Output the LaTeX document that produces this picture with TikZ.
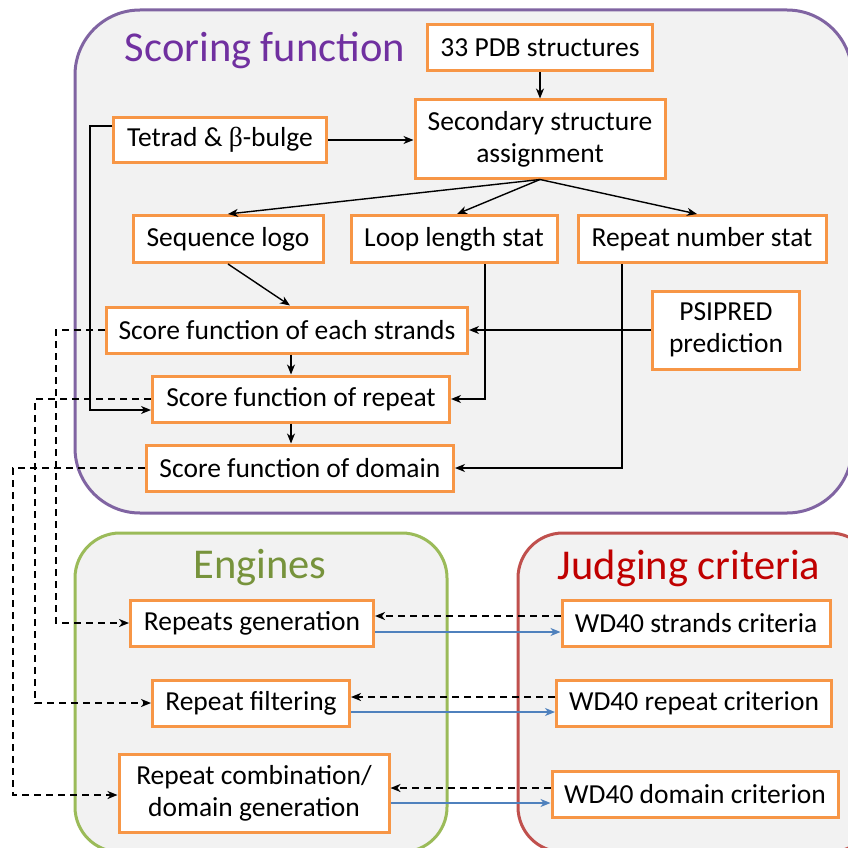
\documentclass[tikz,border=0pt]{standalone}
\usepackage{fontspec}
\setmainfont{Carlito}
\newfontfamily\grk{Liberation Serif}
\usetikzlibrary{arrows.meta,calc}
\definecolor{panelgray}{HTML}{F2F2F2}
\definecolor{purpleline}{HTML}{8064A2}
\definecolor{greenline}{HTML}{9BBB59}
\definecolor{redline}{HTML}{C0504D}
\definecolor{purpletext}{HTML}{7030A0}
\definecolor{greentext}{HTML}{77933C}
\definecolor{redtext}{HTML}{C00000}
\definecolor{orangeline}{HTML}{F79646}
\definecolor{bluearrow}{HTML}{4F81BD}
\begin{document}
\begin{tikzpicture}[x=1pt,y=-1pt,
  box/.style={draw=orangeline, line width=3pt, fill=white, align=center, inner sep=0pt,
    font=\fontsize{27.5}{32}\selectfont},
  panel/.style={fill=panelgray, line width=3pt},
  arr/.style={-{Stealth[length=10pt,width=8pt,inset=3pt]}, line width=1.4pt, black},
  dsh/.style={-{Stealth[length=10pt,width=8pt,inset=3pt]}, line width=2.2pt, black, dash pattern=on 7pt off 5pt},
  blu/.style={-{Stealth[length=10pt,width=8pt,inset=3pt]}, line width=1.3pt, bluearrow},
  ttl/.style={inner sep=0pt, font=\fontsize{42.5}{48}\selectfont}]
\useasboundingbox (0,0) rectangle (848,848);
\clip (0,0) rectangle (848,848);
% panels
\draw[panel, draw=purpleline, rounded corners=65pt] (75,10) rectangle (852,513);
\draw[panel, draw=greenline, rounded corners=45pt] (75,533) rectangle (447,852);
\draw[panel, draw=redline, rounded corners=45pt] (518,533) rectangle (875,852);
% titles
\node[ttl, text=purpletext] (t1) at (265,50) {Scoring function};
\node[ttl, text=greentext] (t2) at (260,568) {Engines};
\node[ttl, text=redtext] (t3) at (689,568) {Judging criteria};
% boxes
\node[box, minimum width=225pt, minimum height=46pt] (pdb) at (540,48) {33 PDB structures};
\node[box, minimum width=250pt, minimum height=78pt] (ssa) at (540,139) {Secondary structure\\assignment};
\node[box, minimum width=213pt, minimum height=45pt] (tet) at (220,140) {Tetrad \& {\grk β}-bulge};
\node[box, minimum width=190pt, minimum height=47pt] (seq) at (228,239) {Sequence logo};
\node[box, minimum width=206pt, minimum height=47pt] (loop) at (454,239) {Loop length stat};
\node[box, minimum width=248pt, minimum height=47pt] (rnum) at (702,239) {Repeat number stat};
\node[box, minimum width=147pt, minimum height=78pt] (psi) at (726,330) {PSIPRED\\prediction};
\node[box, minimum width=361pt, minimum height=46pt] (sfs) at (287,330) {Score function of each strands};
\node[box, minimum width=297pt, minimum height=46pt] (sfr) at (301,399) {Score function of repeat};
\node[box, minimum width=307pt, minimum height=46pt] (sfd) at (300,468) {Score function of domain};
\node[box, minimum width=243pt, minimum height=46pt] (rgen) at (252,623) {Repeats generation};
\node[box, minimum width=197pt, minimum height=46pt] (rfil) at (251,703) {Repeat filtering};
\node[box, minimum width=270pt, minimum height=78pt] (rcomb) at (254,793) {Repeat combination/\\domain generation};
\node[box, minimum width=268pt, minimum height=46pt] (wsc) at (696,623) {WD40 strands criteria};
\node[box, minimum width=275pt, minimum height=46pt] (wrc) at (694,703) {WD40 repeat criterion};
\node[box, minimum width=286pt, minimum height=46pt] (wdc) at (695,794) {WD40 domain criterion};
% solid connectors
\draw[arr] (pdb.south) -- (ssa.north);
\draw[arr] (tet.east) -- (tet.east -| ssa.west);
\draw[arr] (ssa.south) -- (seq.north);
\draw[arr] (ssa.south) -- ([xshift=3pt]loop.north);
\draw[arr] (ssa.south) -- ([xshift=-5pt]rnum.north);
\draw[arr] (seq.south) -- ([xshift=3pt]sfs.north);
\draw[arr] ([xshift=4pt]sfs.south) -- ([xshift=4pt]sfs.south |- sfr.north);
\draw[arr] ([xshift=-10pt]sfr.south) -- ([xshift=-10pt]sfr.south |- sfd.north);
\draw[arr] ([xshift=31pt]loop.south) |- (sfr.east);
\draw[arr] ([xshift=-80pt]rnum.south) |- (sfd.east);
\draw[arr] (psi.west) -- (psi.west -| sfs.east);
\draw[arr] ([yshift=14pt]tet.west) -- ++(-22,0) |- ([yshift=-11pt]sfr.west);
% dashed connectors to engines
\draw[dsh] (sfs.west) -- ++(-49,0) |- (rgen.west);
\draw[dsh] (sfr.west) -- ++(-116,0) |- (rfil.west);
\draw[dsh] (sfd.west) -- ++(-132,0) |- ([yshift=-2pt]rcomb.west);
% criteria <-> engines
\draw[dsh] ([yshift=7pt]wsc.west) -- ([yshift=7pt]wsc.west -| rgen.east);
\draw[blu] ([yshift=-9pt]rgen.east) -- ([yshift=-9pt]rgen.east -| wsc.west);
\draw[dsh] ([yshift=6pt]wrc.west) -- ([yshift=6pt]wrc.west -| rfil.east);
\draw[blu] ([yshift=-9pt]rfil.east) -- ([yshift=-9pt]rfil.east -| wrc.west);
\draw[dsh] ([yshift=6pt]wdc.west) -- ([yshift=6pt]wdc.west -| rcomb.east);
\draw[blu] ([yshift=-9pt]wdc.west -| rcomb.east) -- ([yshift=-9pt]wdc.west);
\end{tikzpicture}
\end{document}
